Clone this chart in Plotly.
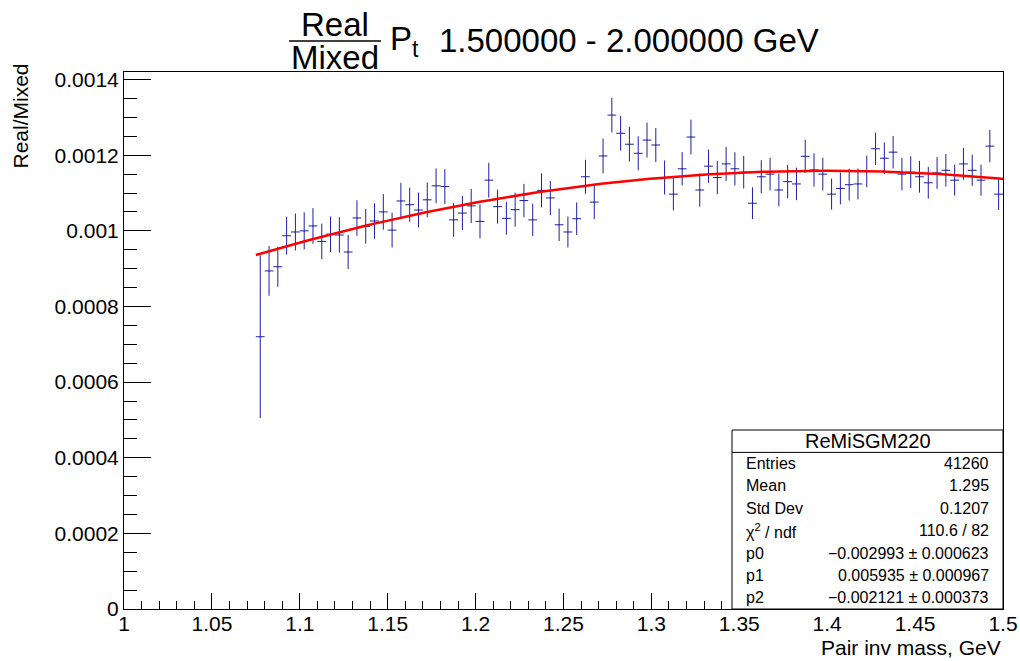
import numpy as np
import plotly.graph_objects as go

# Real/Mixed pair ratio, bins of 5 MeV from 1.075 to 1.5 GeV
bin_lo = 1.075
bin_width = 0.005
ratio = [
    0.000720, 0.000894, 0.000905, 0.000987, 0.000997, 0.001000, 0.001013, 0.000972,
    0.000991, 0.000989, 0.000944, 0.001034, 0.001012, 0.001026, 0.001050, 0.001002,
    0.001079, 0.001069, 0.001055, 0.001082, 0.001119, 0.001117, 0.001029, 0.001047,
    0.001066, 0.001025, 0.001134, 0.001064, 0.001033, 0.001056, 0.001080, 0.001029,
    0.001107, 0.001087, 0.001016, 0.000997, 0.001032, 0.001143, 0.001076, 0.001198,
    0.001306, 0.001258, 0.001229, 0.001205, 0.001240, 0.001227, 0.001141, 0.001097,
    0.001164, 0.001248, 0.001108, 0.001171, 0.001141, 0.001177, 0.001164, 0.001155,
    0.001073, 0.001143, 0.001150, 0.001108, 0.001130, 0.001124, 0.001197, 0.001161,
    0.001150, 0.001097, 0.001112, 0.001122, 0.001124, 0.001157, 0.001217, 0.001192,
    0.001208, 0.001150, 0.001155, 0.001143, 0.001127, 0.001153, 0.001160, 0.001134,
    0.001177, 0.001160, 0.001134, 0.001224, 0.001097,
]
ratio_err = [
    0.000215, 0.000066, 0.000053, 0.000050, 0.000049, 0.000049, 0.000047, 0.000047,
    0.000047, 0.000047, 0.000045, 0.000047, 0.000046, 0.000047, 0.000047, 0.000046,
    0.000048, 0.000045, 0.000046, 0.000046, 0.000046, 0.000046, 0.000045, 0.000045,
    0.000045, 0.000045, 0.000046, 0.000045, 0.000043, 0.000045, 0.000044, 0.000043,
    0.000045, 0.000045, 0.000043, 0.000041, 0.000043, 0.000045, 0.000045, 0.000046,
    0.000046, 0.000046, 0.000046, 0.000045, 0.000046, 0.000045, 0.000045, 0.000043,
    0.000044, 0.000046, 0.000044, 0.000044, 0.000044, 0.000045, 0.000044, 0.000043,
    0.000042, 0.000044, 0.000043, 0.000043, 0.000044, 0.000043, 0.000044, 0.000044,
    0.000043, 0.000041, 0.000042, 0.000042, 0.000041, 0.000042, 0.000043, 0.000042,
    0.000043, 0.000043, 0.000042, 0.000042, 0.000042, 0.000042, 0.000043, 0.000041,
    0.000042, 0.000041, 0.000041, 0.000043, 0.000042,
]
bin_centers = [bin_lo + bin_width * (i + 0.5) for i in range(len(ratio))]

# pol2 fit parameters
p0, p1, p2 = -0.002993, 0.005935, -0.002121
fit_range = (1.075, 1.5)

# stats box contents
stats_name = "ReMiSGM220"
stats_labels = ["Entries", "Mean", "Std Dev", "χ<sup>2</sup> / ndf", "p0", "p1", "p2"]
stats_values = ["41260", "1.295", "0.1207", "110.6 / 82",
                "−0.002993 ± 0.000623", "0.005935 ± 0.000967", "−0.002121 ± 0.000373"]

# axis ticks
x_tickvals = [1.0, 1.05, 1.1, 1.15, 1.2, 1.25, 1.3, 1.35, 1.4, 1.45, 1.5]
x_ticktext = ["1", "1.05", "1.1", "1.15", "1.2", "1.25", "1.3", "1.35", "1.4", "1.45", "1.5"]
y_tickvals = [0, 0.0002, 0.0004, 0.0006, 0.0008, 0.001, 0.0012, 0.0014]
y_ticktext = ["0", "0.0002", "0.0004", "0.0006", "0.0008", "0.001", "0.0012", "0.0014"]

W, H = 1020, 661
ML, MR, MT, MB = 124, 17, 72, 52
FONT = "Liberation Sans, Arial, Helvetica, sans-serif"
BLUE = "rgb(30,30,165)"


def px(xp):
    return (xp - ML) / (W - ML - MR)


def py(yp):
    return (H - MB - yp) / (H - MT - MB)


fig = go.Figure()

fig.add_trace(go.Scatter(
    x=bin_centers, y=ratio, mode="markers",
    marker=dict(size=1, color=BLUE),
    error_y=dict(type="data", array=ratio_err, width=0, thickness=1, color=BLUE),
    error_x=dict(type="constant", value=bin_width / 2, width=0, thickness=1, color=BLUE),
    showlegend=False, hoverinfo="skip",
))

xf = np.linspace(fit_range[0], fit_range[1], 200)
yf = p0 + p1 * xf + p2 * xf ** 2
fig.add_trace(go.Scatter(x=xf, y=yf, mode="lines",
                         line=dict(color="#ff0000", width=2.5),
                         showlegend=False, hoverinfo="skip"))

fig.update_layout(
    width=W, height=H,
    margin=dict(l=ML, r=MR, t=MT, b=MB, pad=0, autoexpand=False),
    paper_bgcolor="white", plot_bgcolor="white",
    font=dict(family=FONT, color="black"),
    xaxis=dict(
        range=[1.0, 1.5], showgrid=False, zeroline=False, automargin=False,
        showline=True, mirror=True, linecolor="black", linewidth=1,
        tickmode="array", tickvals=x_tickvals, ticktext=x_ticktext,
        ticks="inside", ticklen=16, tickcolor="black", tickwidth=1,
        tickfont=dict(size=21, family=FONT), ticklabelstandoff=-4,
        minor=dict(tickmode="linear", tick0=1.0, dtick=0.01, ticks="inside",
                   ticklen=8, tickcolor="black", tickwidth=1, showgrid=False),
    ),
    yaxis=dict(
        range=[0, 0.00142], showgrid=False, zeroline=False, automargin=False,
        showline=True, mirror=True, linecolor="black", linewidth=1,
        tickmode="array", tickvals=y_tickvals, ticktext=y_ticktext,
        ticks="inside", ticklen=27, tickcolor="black", tickwidth=1,
        tickfont=dict(size=21, family=FONT),
        minor=dict(tickmode="linear", tick0=0, dtick=0.00005, ticks="inside",
                   ticklen=13, tickcolor="black", tickwidth=1, showgrid=False),
    ),
)

ann = []
shapes = []

# title: Real/Mixed fraction, P_t and momentum range
TS = 33
ann.append(dict(text="Real", x=px(335), y=py(24), xanchor="center", yanchor="middle",
                font=dict(size=TS)))
ann.append(dict(text="Mixed", x=px(335), y=py(58), xanchor="center", yanchor="middle",
                font=dict(size=TS)))
shapes.append(dict(type="line", xref="paper", yref="paper",
                   x0=px(289), x1=px(381), y0=py(41), y1=py(41),
                   line=dict(color="black", width=1.5)))
ann.append(dict(text="P<sub>t</sub>", x=px(388), y=py(41), xanchor="left", yanchor="middle",
                font=dict(size=TS)))
ann.append(dict(text="1.500000 - 2.000000 GeV", x=px(437), y=py(40), xanchor="left",
                yanchor="middle", font=dict(size=TS)))

# axis titles
ann.append(dict(text="Pair inv mass, GeV", x=px(1003), y=py(647), xanchor="right",
                yanchor="middle", font=dict(size=21)))
ann.append(dict(text="Real/Mixed", x=px(20), y=py(62), xanchor="center", yanchor="top",
                textangle=-90, font=dict(size=21)))

# stats box
bx0, bx1, by0, by1 = 732, 1003, 430, 609
row_h = (by1 - by0) / 8
shapes.append(dict(type="rect", xref="paper", yref="paper",
                   x0=px(bx0), x1=px(bx1), y0=py(by1), y1=py(by0),
                   line=dict(color="black", width=1), fillcolor="white", layer="above"))
shapes.append(dict(type="line", xref="paper", yref="paper",
                   x0=px(bx0), x1=px(bx1), y0=py(by0 + row_h), y1=py(by0 + row_h),
                   line=dict(color="black", width=1), layer="above"))
ann.append(dict(text=stats_name, x=px((bx0 + bx1) / 2), y=py(by0 + row_h / 2),
                xanchor="center", yanchor="middle", font=dict(size=20)))
for k, (lab, val) in enumerate(zip(stats_labels, stats_values)):
    yc = by0 + row_h * (k + 1.5)
    ann.append(dict(text=lab, x=px(744), y=py(yc), xanchor="left", yanchor="middle",
                    font=dict(size=16)))
    ann.append(dict(text=val, x=px(991), y=py(yc), xanchor="right", yanchor="middle",
                    font=dict(size=16)))

for a in ann:
    a.update(xref="paper", yref="paper", showarrow=False)

fig.update_layout(annotations=ann, shapes=shapes)
fig.write_html("out.html")
